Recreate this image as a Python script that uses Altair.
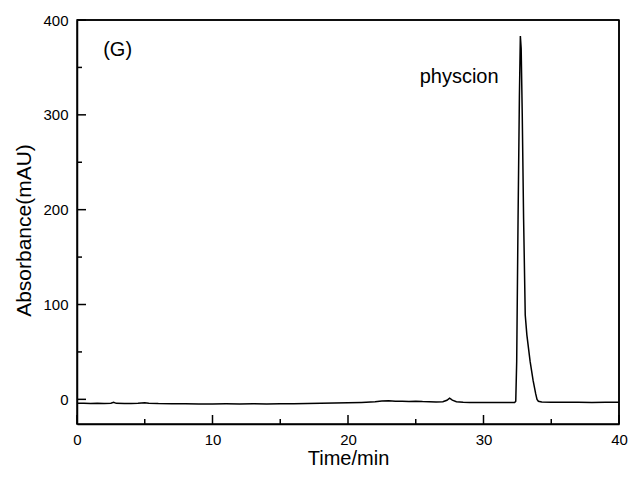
import altair as alt
import pandas as pd

# Chromatogram trace (time in min, absorbance in mAU)
time_min = [0, 0.5, 1.0, 1.5, 2.0, 2.5, 2.7, 2.9, 3.5, 4.0, 4.5, 5.0, 5.3, 6.0, 7, 8, 9, 10,
            11, 12, 13, 14, 15, 16, 17, 18, 19, 20, 21, 22, 22.5, 23, 23.5, 24, 24.5, 25,
            25.5, 26, 26.5, 27, 27.3, 27.5, 27.7, 28, 28.5, 29, 30, 31, 32, 32.3, 32.38,
            32.45, 32.55, 32.65, 32.72, 32.78, 32.86, 32.96, 33.08, 33.2, 33.44, 33.66,
            33.85, 33.95, 34.05, 34.3, 35, 36, 37, 38, 39, 40]
absorbance = [-4.0, -4.2, -4.3, -4.1, -4.4, -4.0, -3.0, -4.2, -4.3, -4.5, -4.2, -3.6, -4.0,
              -4.5, -4.7, -4.6, -4.9, -4.8, -4.7, -4.9, -4.6, -4.8, -4.7, -4.6, -4.4, -4.2,
              -3.9, -3.6, -3.2, -2.5, -1.8, -1.6, -1.9, -2.0, -2.2, -2.0, -2.4, -2.6, -2.8,
              -2.6, -1.0, 1.2, -0.8, -2.5, -3.0, -3.2, -3.4, -3.3, -3.4, -3.3, -2.0, 40,
              190, 320, 383, 370, 300, 190, 89, 68, 40, 20, 6, 0, -2, -2.8, -3.0, -3.1,
              -3.0, -3.2, -3.1, -3.0]

x_major = [0, 10, 20, 30, 40]
x_minor = [5, 15, 25, 35]
y_major = [0, 100, 200, 300, 400]
y_minor = [50, 150, 250, 350]

panel_label = "(G)"
peak_label = "physcion"

W, H = 542, 404
FONT = "Liberation Sans"
X0, X1 = 0, 40
Y0, Y1 = -26, 400
PX_PER_MIN = W / (X1 - X0)
PX_PER_MAU = H / (Y1 - Y0)
MAJOR_LEN, MINOR_LEN = 9, 5

# annotation anchor points (in axis units)
G_POS = (3.0, 362)
P_POS = (28.2, 334)

# One table for every stroked path: the trace, the inward ticks and the frame edges.
sid, kk, tt, vv = [], [], [], []

def add(series, pts):
    for i, (t, v) in enumerate(pts):
        sid.append(series); kk.append(i); tt.append(t); vv.append(v)

add("trace", list(zip(time_min, absorbance)))
for v in y_major + y_minor:
    ln = MAJOR_LEN if v in y_major else MINOR_LEN
    add(f"ytick{v}", [(X0, v), (X0 + ln / PX_PER_MIN, v)])
for t in x_major + x_minor:
    ln = MAJOR_LEN if t in x_major else MINOR_LEN
    add(f"xtick{t}", [(t, Y0), (t, Y0 + ln / PX_PER_MAU)])
add("frame_top", [(X0, Y1), (X1, Y1)])
add("frame_right", [(X1, Y1), (X1, Y0)])

paths = pd.DataFrame({"series": sid, "k": kk, "t": tt, "v": vv})

xs = alt.Scale(domain=[X0, X1], nice=False, zero=False)
ys = alt.Scale(domain=[Y0, Y1], nice=False, zero=False)

lines = alt.Chart(paths).mark_line(color="black", strokeWidth=1.5, strokeCap="butt").encode(
    x=alt.X("t:Q", scale=xs, axis=alt.Axis(
        values=x_major, title="Time/min", grid=False, ticks=False, labelFlush=False,
        labelFontSize=15, labelPadding=8, labelFont=FONT, labelColor="black",
        domainColor="black", domainWidth=1.5,
        titleFont=FONT, titleFontSize=20, titleFontWeight="normal", titleColor="black",
        titleY=40, titleBaseline="alphabetic")),
    y=alt.Y("v:Q", scale=ys, axis=alt.Axis(
        values=y_major, title="Absorbance(mAU)", grid=False, ticks=False, labelFlush=False,
        labelFontSize=15, labelPadding=9, labelFont=FONT, labelColor="black",
        domainColor="black", domainWidth=1.5,
        titleFont=FONT, titleFontSize=21, titleFontWeight="normal", titleColor="black",
        titleX=-53, titleY=H / 2 + 8, titleAlign="center", titleBaseline="middle")),
    detail="series:N",
    order=alt.Order("k:Q"),
)

g_text = alt.Chart(pd.DataFrame({"label": [panel_label]})).mark_text(
    font=FONT, fontSize=20, color="black", align="center", baseline="alphabetic").encode(
    text="label:N", x=alt.datum(G_POS[0], scale=xs), y=alt.datum(G_POS[1], scale=ys))
p_text = alt.Chart(pd.DataFrame({"label": [peak_label]})).mark_text(
    font=FONT, fontSize=20, color="black", align="center", baseline="alphabetic").encode(
    text="label:N", x=alt.datum(P_POS[0], scale=xs), y=alt.datum(P_POS[1], scale=ys))

chart = alt.layer(lines, g_text, p_text).properties(
    width=W, height=H
).configure_view(stroke="black", strokeWidth=1.5)

chart.save("out.html", embed_options={"renderer": "svg", "actions": False})
